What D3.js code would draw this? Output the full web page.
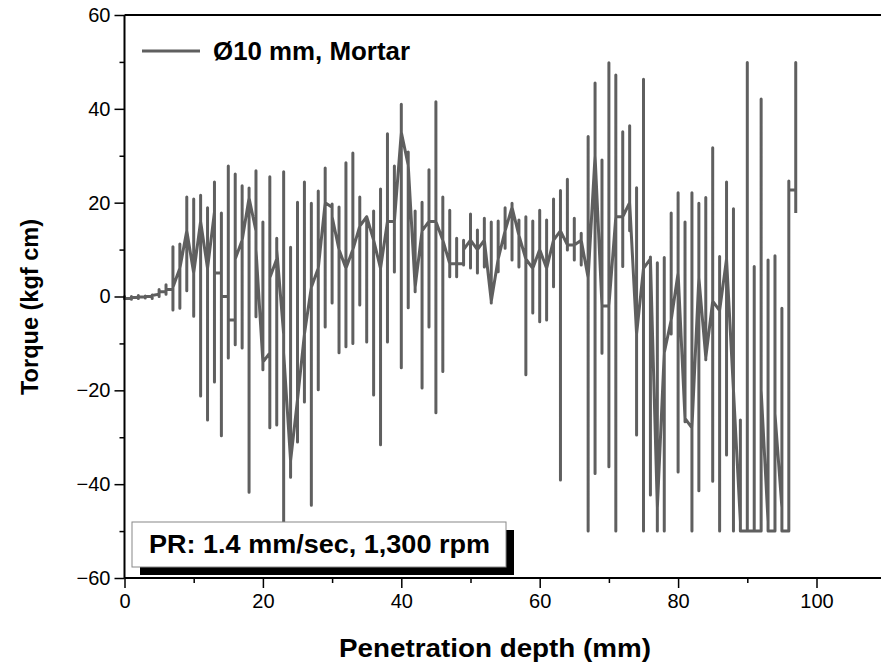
<!DOCTYPE html>
<html>
<head>
<meta charset="utf-8">
<script src="https://cdn.jsdelivr.net/npm/d3@7"></script>
<style>
  body { margin: 0; background: #fff; }
  text { font-family: Arial, "Liberation Sans", sans-serif; }
</style>
</head>
<body>
<div id="canvas"></div>
<script>
var width = 881;
var height = 667;

// penetration depth (mm), one entry per sample step
const depth = [0,1,2,3,4,5,6,7,8,9,10,11,12,13,14,15,16,17,18,19,
  20,21,22,23,24,25,26,27,28,29,30,31,32,33,34,35,36,37,38,39,
  40,41,42,43,44,45,46,47,48,49,50,51,52,53,54,55,56,57,58,59,
  60,61,62,63,64,65,66,67,68,69,70,71,72,73,74,75,76,77,78,79,
  80,81,82,83,84,85,86,87,88,89,90,91,92,93,94,95,96,97];

// torque readings (kgf cm) logged at each depth, in recording order
const torqueReadings = [
  [-0.3, 0, -0.5, -0.4], [-0.4, 0, -0.6, -0.2], [-0.2, 0.2, -0.4, -0.1], [-0.1, 0.1, -0.3, 0],
  [0, 0.3, -0.4, 0.2], [0.5, 1.5, 0, 1], [1, 2.5, 0.5, 1.5], [1.5, 10.6, -2.9, 2],
  [6, 11.2, -2.5, 6], [14, 21.2, 1.2, 14], [5, 20.8, -4.2, 5], [16, 21.6, -21.2, 16],
  [6, 18.9, -26.3, 6], [18, 24.4, -18.2, 5], [5, 17.8, -29.7, 0], [0, 27.8, -13.1, -5],
  [-5, 26.1, -10.3, 8], [12, 23.6, -11, 12], [21, 23.1, -41.7, 21], [14, 26.8, -4.3, 10],
  [-14, 15.9, -15.6, -14], [-12, 25.5, -28, 4], [8, 12.4, -27.4, 10], [-8, 26.6, -50, -12],
  [-35, 10.5, -38.5, -35], [-22, 20.1, -31, -22], [-8, 24.4, -22.5, -8], [2, 19.9, -44.5, 2],
  [6, 22.5, -19.9, 6], [20, 27.4, -6.5, 20], [19, 19.7, -1.4, 17], [10, 19.1, -12, 10],
  [6, 28.5, -10.7, 6], [10, 30.6, -10, 10], [15, 21.2, -1.8, 15], [17, 17, -9.7, 17],
  [12, 18.2, -21, 12], [6, 22.9, -31.6, 6], [16, 34.7, -9.7, 16], [16, 27.8, 5.2, 16],
  [35, 41, -15.2, 35], [28, 30.8, -2.4, 28], [2, 18.2, 1, 2], [14, 20.1, -19.5, 14],
  [16, 27, -6.5, 16], [16, 41.5, -24.8, 16], [12, 21.2, -16, 12], [7, 18.4, 4.2, 7],
  [7, 12.4, 4.2, 7], [7, 12, 6.7, 10], [12, 17.6, 6.1, 12], [10, 14.2, 5, 10],
  [12, 16.7, 6.3, 12], [-1, 15.9, -1.4, -1], [8, 16.1, 5.3, 8], [14, 18.9, 10.3, 14],
  [19, 19.9, 7.8, 19], [13, 16.3, 6.3, 13], [8, 17, -16.7, 8], [6, 16.1, -3.5, 6],
  [10, 18.4, -5.4, 10], [6, 16.3, -5, 6], [12, 20.8, 2.1, 12], [14, 22.6, -39.1, 14],
  [11, 25, 9.9, 11], [11, 16.7, 7.8, 11], [12, 13.5, 6.7, 12], [4, 34.1, -50, 4],
  [30, 45.5, -37.7, 30], [-2, 29.1, -12.1, -2], [-2, 49.8, -36.3, -2], [17, 47.2, -50, 17],
  [17, 35.1, 6.4, 17], [20, 36.4, 14, 20], [-8, 23.2, -29.5, -8], [6, 46.3, -50, 6],
  [8, 8.4, -42.3, 8], [-45, 7.2, -50, -45], [-12, 8.3, -50, -12], [-5, 17.8, -8, -5],
  [5, 22.1, -37.4, 5], [-26, 15.9, -26.7, -26], [-28, 22.1, -50, -28], [4, 19.9, -41.4, 4],
  [-13, 21.1, -13.5, -13], [-1, 31.7, -39.4, -1], [-3, 8.5, -50, -3], [8, 24.4, -33.8, 8],
  [-20, 18.7, -50, -20], [-48, -26.3, -50, -50], [-50, 49.9, -50], [-50, 6.4, -50],
  [-50, 42.1, -50, -20], [-48, 7.8, -50], [-50, 8.7, -50, -25], [-45, -2.5, -50],
  [-50, 24.6, -50, 22.7], [22.7, 49.9, 17.8]
];

const xTicks = [0, 20, 40, 60, 80, 100];
const yTicks = [-60, -40, -20, 0, 20, 40, 60];
const seriesName = "Ø10 mm, Mortar";
const noteText = "PR: 1.4 mm/sec, 1,300 rpm";

const lineColor = "#5f5f5f";

var svg = d3.select("#canvas").append("svg")
    .attr("width", width)
    .attr("height", height)
    .style("background-color", "white");

const x = d3.scaleLinear().domain([0, 110]).range([124.5, 885.7]);
const y = d3.scaleLinear().domain([-60, 60]).range([578, 15]);

// flatten readings into (depth, torque) points
const points = depth.flatMap((d, i) => torqueReadings[i].map(t => ({ d: d, t: t })));

const line = d3.line()
    .x(p => x(p.d))
    .y(p => y(p.t));

svg.append("path")
    .datum(points)
    .attr("d", line)
    .attr("fill", "none")
    .attr("stroke", lineColor)
    .attr("stroke-width", 3)
    .attr("stroke-linejoin", "round");

// axes
const xAxis = svg.append("g")
    .attr("transform", "translate(0," + y(-60) + ")")
    .call(d3.axisBottom(x).tickValues(xTicks).tickSize(10).tickPadding(6).tickFormat(d3.format("d")));
const xMinor = svg.append("g")
    .attr("transform", "translate(0," + y(-60) + ")")
    .call(d3.axisBottom(x).tickValues([10, 30, 50, 70, 90]).tickSize(5).tickFormat(""));
const yAxis = svg.append("g")
    .attr("transform", "translate(" + x(0) + ",0)")
    .call(d3.axisLeft(y).tickValues(yTicks).tickSize(10).tickPadding(4).tickFormat(d3.format("d")));
const yMinor = svg.append("g")
    .attr("transform", "translate(" + x(0) + ",0)")
    .call(d3.axisLeft(y).tickValues([-50, -30, -10, 10, 30, 50]).tickSize(5).tickFormat(""));

[xAxis, xMinor, yAxis, yMinor].forEach(g => {
  g.select(".domain").attr("stroke", "#000").attr("stroke-width", 2);
  g.selectAll(".tick line").attr("stroke", "#000").attr("stroke-width", 1.5);
  g.selectAll(".tick text").attr("font-size", 20).attr("fill", "#000")
    .style("font-family", "Arial, 'Liberation Sans', sans-serif");
});
xMinor.select(".domain").remove();
yMinor.select(".domain").remove();
xAxis.select(".domain").attr("d", "M" + x(0) + ",0H" + width);
yAxis.select(".domain").attr("d", "M0," + y(60) + "V" + y(-60));

// top frame line
svg.append("line")
    .attr("x1", x(0)).attr("x2", width)
    .attr("y1", y(60)).attr("y2", y(60))
    .attr("stroke", "#000").attr("stroke-width", 2);

// axis titles
svg.append("text")
    .attr("x", 339).attr("y", 657)
    .attr("font-size", 25).attr("font-weight", "bold")
    .attr("textLength", 312).attr("lengthAdjust", "spacingAndGlyphs")
    .text("Penetration depth (mm)");

svg.append("text")
    .attr("transform", "translate(38,395) rotate(-90)")
    .attr("font-size", 24).attr("font-weight", "bold")
    .attr("textLength", 176).attr("lengthAdjust", "spacingAndGlyphs")
    .text("Torque (kgf cm)");

// legend
svg.append("line")
    .attr("x1", 142).attr("x2", 200)
    .attr("y1", 51).attr("y2", 51)
    .attr("stroke", lineColor).attr("stroke-width", 3);
svg.append("text")
    .attr("x", 213).attr("y", 60)
    .attr("font-size", 25).attr("font-weight", "bold")
    .attr("textLength", 197).attr("lengthAdjust", "spacingAndGlyphs")
    .text(seriesName);

// annotation box with shadow
svg.append("rect")
    .attr("x", 140).attr("y", 530).attr("width", 374).attr("height", 45)
    .attr("fill", "#000");
svg.append("rect")
    .attr("x", 132).attr("y", 522).attr("width", 374).attr("height", 45)
    .attr("fill", "#fff").attr("stroke", "#888").attr("stroke-width", 1);
svg.append("text")
    .attr("x", 149).attr("y", 553)
    .attr("font-size", 25).attr("font-weight", "bold")
    .attr("textLength", 341).attr("lengthAdjust", "spacingAndGlyphs")
    .text(noteText);
</script>
</body>
</html>
